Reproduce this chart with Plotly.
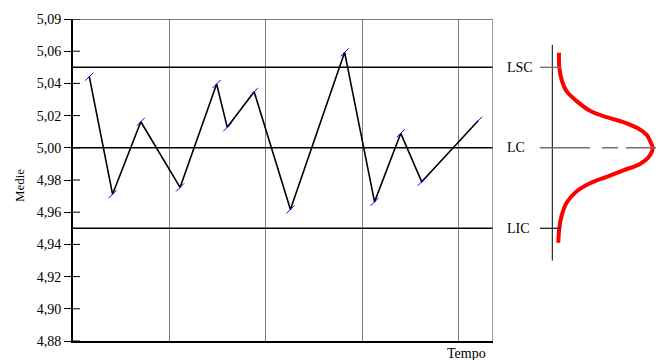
import plotly.graph_objects as go

# ---- data ----
time_x = [0.169, 0.41, 0.703, 1.11, 1.489, 1.599, 1.878, 2.254, 2.816, 3.126, 3.398, 3.615, 4.20]
medie = [5.0442, 4.9712, 5.0162, 4.9754, 5.0396, 5.0127, 5.0348, 4.9617, 5.0593, 4.9664, 5.009, 4.9789, 5.0168]

y_tickvals = [4.88, 4.90, 4.92, 4.94, 4.96, 4.98, 5.00, 5.02, 5.04, 5.06, 5.08]
y_ticktext = ["4,88", "4,90", "4,92", "4,94", "4,96", "4,98", "5,00", "5,02", "5,04", "5,06", "5,09"]
x_grid = [1, 2, 3, 4]

limit_names = ["LSC", "LC", "LIC"]
limit_values = [5.05, 5.00, 4.95]

# bell curve drawn on the right (horizontal extent, level)
curve_x = [559, 559.3, 561.7, 566.7, 576.7, 590, 606.7, 623.3, 638.3, 646.7, 651, 652.7,
           648.3, 640, 623.3, 606.7, 590, 576.7, 566.7, 561.7, 559.3, 558.3]
curve_y = [5.059, 5.050, 5.042, 5.035, 5.029, 5.023, 5.019, 5.016, 5.012, 5.008, 5.003, 5.000,
           4.994, 4.990, 4.986, 4.982, 4.978, 4.973, 4.966, 4.958, 4.950, 4.941]

FONT = "Liberation Serif"
X_END = 4.354
MAIN_DOM = 420 / 591

fig = go.Figure()

fig.add_trace(go.Scatter(
    x=time_x, y=medie, mode="lines+markers",
    line=dict(color="black", width=1.6),
    marker=dict(symbol="line-ne", size=8, color="blue", line=dict(color="blue", width=1)),
    xaxis="x", yaxis="y", showlegend=False, hoverinfo="skip"))

fig.add_trace(go.Scatter(
    x=curve_x, y=curve_y, mode="lines",
    line=dict(color="red", width=4, shape="spline", smoothing=1.0),
    xaxis="x2", yaxis="y", showlegend=False, hoverinfo="skip"))

shapes = []
for v in limit_values:
    shapes.append(dict(type="line", xref="x", yref="y", x0=0, x1=X_END, y0=v, y1=v,
                       line=dict(color="black", width=1.6)))
shapes.append(dict(type="line", xref="x", yref="y", x0=0, x1=X_END, y0=5.08, y1=5.08,
                   line=dict(color="black", width=1)))
shapes.append(dict(type="line", xref="x", yref="y", x0=X_END, x1=X_END, y0=4.88, y1=5.08,
                   line=dict(color="#808080", width=1.5)))
for v in y_tickvals:
    shapes.append(dict(type="line", xref="paper", yref="y", x0=0, x1=7 / 591, y0=v, y1=v,
                       line=dict(color="black", width=1)))

shapes.append(dict(type="line", xref="x2", yref="y", x0=552.3, x1=552.3, y0=4.930, y1=5.064,
                   line=dict(color="black", width=1)))
shapes.append(dict(type="line", xref="x2", yref="y", x0=540, x1=561, y0=limit_values[0], y1=limit_values[0],
                   line=dict(color="#707070", width=1.3)))
shapes.append(dict(type="line", xref="x2", yref="y", x0=540, x1=664, y0=limit_values[1], y1=limit_values[1],
                   line=dict(color="#707070", width=1.5, dash="50px,12px,16px,8px,40px")))
shapes.append(dict(type="line", xref="x2", yref="y", x0=540, x1=561, y0=limit_values[2], y1=limit_values[2],
                   line=dict(color="#202020", width=1.3)))

annotations = []
for name, v in zip(limit_names, limit_values):
    annotations.append(dict(x=505, y=v, xref="x2", yref="y", text=name, showarrow=False,
                            xanchor="left", yanchor="middle",
                            font=dict(family=FONT, size=14, color="black")))
annotations.append(dict(x=(19 - 73) / 591, y=0.481, xref="paper", yref="paper", text="Medie",
                        showarrow=False, textangle=-90, xanchor="center", yanchor="middle",
                        font=dict(family=FONT, size=13, color="black")))
annotations.append(dict(x=0.665, y=-0.038, xref="paper", yref="paper", text="Tempo",
                        showarrow=False, xanchor="center", yanchor="middle",
                        font=dict(family=FONT, size=14, color="black")))

# the page adds an 8px body margin; compensate so the plot area sits at 73..664 x 19..341
fig.update_layout(
    width=656, height=352,
    margin=dict(l=65, r=0, t=11, b=19),
    paper_bgcolor="white", plot_bgcolor="white",
    xaxis=dict(domain=[0, MAIN_DOM], range=[0, X_END], tickvals=x_grid, showticklabels=False,
               ticks="", showgrid=True, gridcolor="#808080", gridwidth=1.3, zeroline=False,
               showline=True, linecolor="black", linewidth=2, anchor="y", fixedrange=True),
    xaxis2=dict(domain=[MAIN_DOM, 1], range=[493, 664], visible=False, anchor="y", fixedrange=True),
    yaxis=dict(range=[4.88, 5.08], tickvals=y_tickvals, ticktext=y_ticktext,
               ticks="outside", ticklen=7, tickwidth=1, tickcolor="black",
               showgrid=False, zeroline=False, showline=True, linecolor="black", linewidth=2,
               tickfont=dict(family=FONT, size=14, color="black"), anchor="x", fixedrange=True,
               automargin=False),
    shapes=shapes, annotations=annotations,
)

fig.write_html("out.html")
